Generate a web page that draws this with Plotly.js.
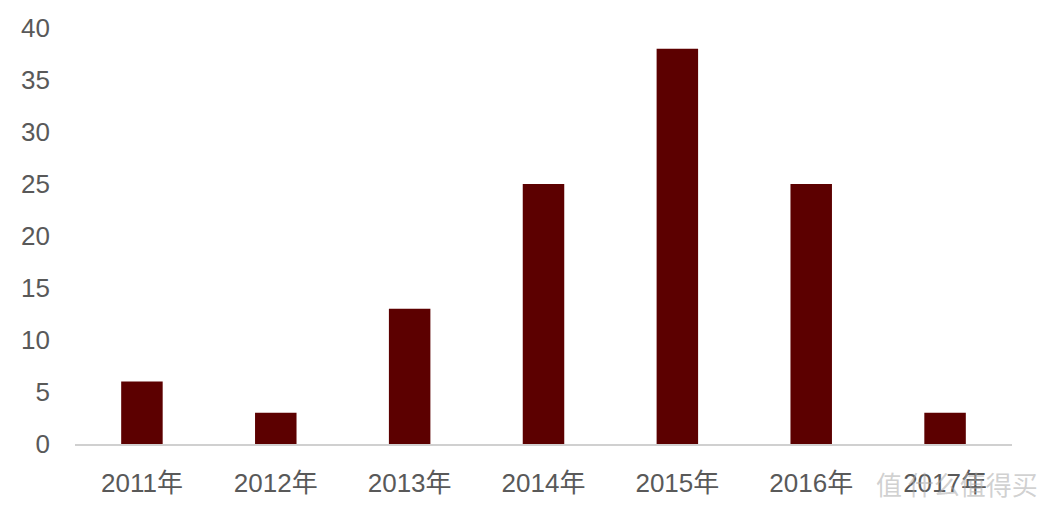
<!DOCTYPE html>
<html>
<head>
<meta charset="utf-8">
<script src="https://cdn.plot.ly/plotly-3.0.1.min.js"></script>
<style>html,body{margin:0;padding:0;background:#fff;}#chart{width:1050px;height:508px;}</style>
</head>
<body>
<div id="chart"></div>
<script>
const categories = ["2011年", "2012年", "2013年", "2014年", "2015年", "2016年", "2017年"];
const values = [6, 3, 13, 25, 38, 25, 3];
const yTicks = [0, 5, 10, 15, 20, 25, 30, 35, 40];

const font = {family: "Liberation Sans, Arial, Noto Sans CJK SC, sans-serif", size: 26, color: "#595959"};

Plotly.newPlot("chart", [{
  type: "bar",
  x: categories,
  y: values,
  marker: {color: "#5c0000"},
  hoverinfo: "x+y"
}], {
  width: 1050, height: 508,
  margin: {l: 75, r: 38, t: 28, b: 64},
  paper_bgcolor: "#ffffff",
  plot_bgcolor: "#ffffff",
  bargap: 0.69,
  showlegend: false,
  font: font,
  xaxis: {
    type: "category",
    showgrid: false,
    showline: true,
    linecolor: "#d0d0d0",
    linewidth: 1.5,
    ticks: "",
    tickfont: font,
    ticklabelstandoff: 15,
    zeroline: false
  },
  yaxis: {
    range: [0, 40],
    tickvals: yTicks,
    showgrid: false,
    showline: false,
    zeroline: false,
    ticks: "",
    tickfont: font,
    ticklabelstandoff: 24
  },
  annotations: [{
    xref: "paper", yref: "paper",
    x: 1.03, y: -0.095,
    xanchor: "right", yanchor: "middle",
    text: "值 什么值得买",
    showarrow: false,
    font: {family: "Noto Sans CJK SC, sans-serif", size: 26, color: "rgba(170,170,170,0.55)"}
  }]
}, {displayModeBar: false, staticPlot: true});
</script>
</body>
</html>
